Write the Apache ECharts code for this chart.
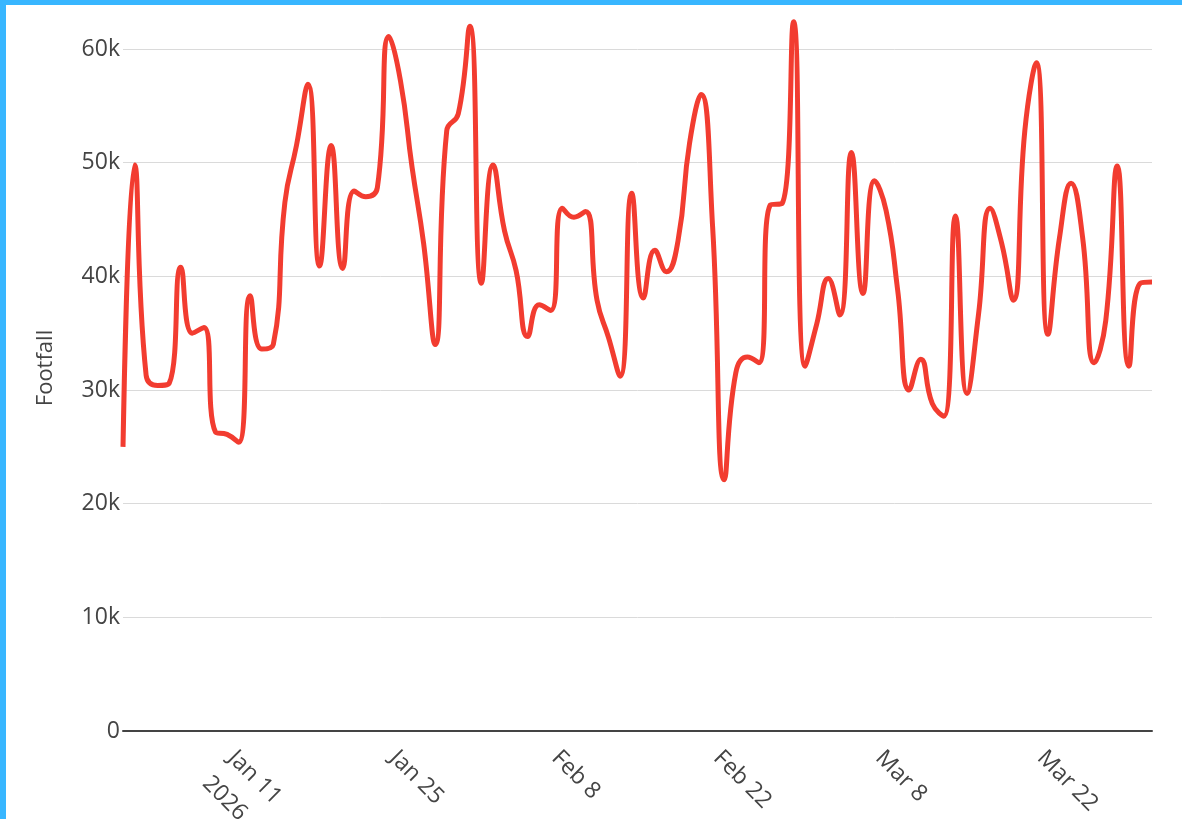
<!DOCTYPE html>
<html>
<head>
<meta charset="utf-8">
<script src="https://cdn.jsdelivr.net/npm/echarts@6/dist/echarts.min.js"></script>
<style>
  html, body { margin:0; padding:0; background:#fff; }
  #chart { position:absolute; left:0; top:0; width:1182px; height:819px; }
  #frameTop { position:absolute; left:0; top:0; width:1182px; height:5px; background:#38b6ff; z-index:5; }
  #frameLeft { position:absolute; left:0; top:0; width:6px; height:819px; background:#38b6ff; z-index:5; }
</style>
</head>
<body>
<div id="chart"></div>
<div id="frameTop"></div>
<div id="frameLeft"></div>
<script>
const dates = [
  '2026-01-01','2026-01-02','2026-01-03','2026-01-04','2026-01-05','2026-01-06','2026-01-07','2026-01-08','2026-01-09','2026-01-10',
  '2026-01-11','2026-01-12','2026-01-13','2026-01-14','2026-01-15','2026-01-16','2026-01-17','2026-01-18','2026-01-19','2026-01-20',
  '2026-01-21','2026-01-22','2026-01-23','2026-01-24','2026-01-25','2026-01-26','2026-01-27','2026-01-28','2026-01-29','2026-01-30',
  '2026-01-31','2026-02-01','2026-02-02','2026-02-03','2026-02-04','2026-02-05','2026-02-06','2026-02-07','2026-02-08','2026-02-09',
  '2026-02-10','2026-02-11','2026-02-12','2026-02-13','2026-02-14','2026-02-15','2026-02-16','2026-02-17','2026-02-18','2026-02-19',
  '2026-02-20','2026-02-21','2026-02-22','2026-02-23','2026-02-24','2026-02-25','2026-02-26','2026-02-27','2026-02-28','2026-03-01',
  '2026-03-02','2026-03-03','2026-03-04','2026-03-05','2026-03-06','2026-03-07','2026-03-08','2026-03-09','2026-03-10','2026-03-11',
  '2026-03-12','2026-03-13','2026-03-14','2026-03-15','2026-03-16','2026-03-17','2026-03-18','2026-03-19','2026-03-20','2026-03-21',
  '2026-03-22','2026-03-23','2026-03-24','2026-03-25','2026-03-26','2026-03-27','2026-03-28','2026-03-29','2026-03-30','2026-03-31'
];

const footfall = [
  25000, 49800, 31300, 30400, 30600, 40800, 35000, 35500, 26300, 26100,
  25400, 38300, 33600, 34000, 46500, 51500, 56900, 40900, 51500, 40700,
  47500, 47000, 47800, 61100, 57200, 49600, 42900, 34000, 52800, 54300,
  62000, 39400, 49800, 44000, 40500, 34700, 37500, 37000, 46000, 45200,
  45700, 37900, 34600, 31200, 47300, 38100, 42300, 40400, 43100, 51700,
  56000, 44300, 22100, 31500, 32900, 32400, 46300, 46400, 62400, 32100,
  35800, 39800, 36600, 50900, 38500, 48400, 45800, 38800, 30000, 32700,
  28800, 27700, 45300, 29700, 36700, 46000, 42900, 37900, 52800, 58800,
  34900, 43400, 48200, 43400, 32400, 36100, 49700, 32100, 39400, 39500
];

const tickDates  = ['2026-01-11', '2026-01-25', '2026-02-08', '2026-02-22', '2026-03-08', '2026-03-22'];
const tickLabels = ['Jan 11\n2026', 'Jan 25', 'Feb 8', 'Feb 22', 'Mar 8', 'Mar 22'];

const yTicks = [0, 10000, 20000, 30000, 40000, 50000, 60000];
const yTickLabels = ['0', '10k', '20k', '30k', '40k', '50k', '60k'];
const yTitle = 'Footfall';

const FONT = "'Open Sans', 'Noto Sans', sans-serif";
const TEXT = '#444444';

const chart = echarts.init(document.getElementById('chart'), null, { renderer: 'canvas' });
chart.setOption({
  animation: false,
  backgroundColor: '#ffffff',
  grid: { left: 123, right: 30, top: 49, bottom: 88, containLabel: false, outerBoundsMode: 'none' },
  xAxis: {
    type: 'category',
    data: dates,
    boundaryGap: false,
    axisLine: { show: true, lineStyle: { color: '#444444', width: 2 } },
    axisTick: { show: false },
    splitLine: { show: false },
    axisLabel: {
      interval: (idx, val) => tickDates.indexOf(val) >= 0,
      formatter: (val) => { const i = tickDates.indexOf(val); return i >= 0 ? tickLabels[i] : ''; },
      rotate: -45,
      align: 'left',
      verticalAlign: 'top',
      margin: 5,
      padding: [0, 0, 0, 8],
      color: TEXT,
      fontSize: 23,
      fontFamily: FONT,
      lineHeight: 36,
      hideOverlap: false
    }
  },
  yAxis: {
    type: 'value',
    min: yTicks[0],
    max: yTicks[yTicks.length - 1],
    interval: 10000,
    axisLine: { show: false },
    axisTick: { show: false },
    axisLabel: {
      margin: 3,
      color: TEXT,
      fontSize: 23,
      fontFamily: FONT,
      formatter: (v) => { const i = yTicks.indexOf(v); return i >= 0 ? yTickLabels[i] : ''; }
    },
    splitLine: { show: true, lineStyle: { color: '#dadada', width: 1 } }
  },
  graphic: [{
    type: 'text',
    x: 46,
    y: 368,
    rotation: Math.PI / 2,
    style: {
      text: yTitle,
      fill: TEXT,
      font: "22px 'Open Sans', 'Noto Sans', sans-serif",
      textAlign: 'center',
      textVerticalAlign: 'middle'
    }
  }],
  series: [{
    name: 'Footfall',
    type: 'line',
    data: footfall,
    smooth: 0.5,
    showSymbol: false,
    symbol: 'none',
    clip: false,
    lineStyle: { color: '#f23c30', width: 5 }
  }]
});
</script>
</body>
</html>
